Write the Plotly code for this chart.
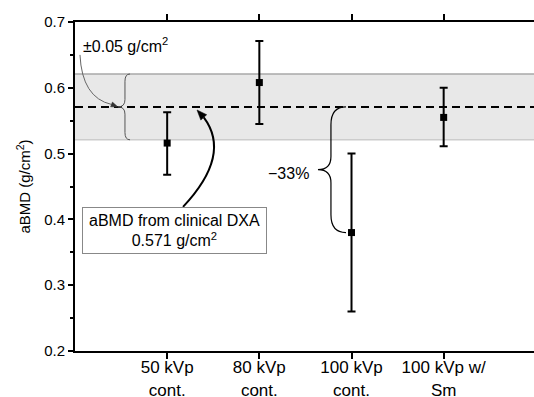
import plotly.graph_objects as go

categories = ["50 kVp<br>cont.", "80 kVp<br>cont.", "100 kVp<br>cont.", "100 kVp w/<br>Sm"]
positions = [1, 2, 3, 4]
abmd = [0.516, 0.608, 0.380, 0.555]
err_plus = [0.047, 0.063, 0.120, 0.045]
err_minus = [0.048, 0.063, 0.120, 0.044]
dxa_ref = 0.571
band = 0.05
y_ticks = [0.2, 0.3, 0.4, 0.5, 0.6, 0.7]

FONT = "Liberation Sans, Arial, sans-serif"

fig = go.Figure()
fig.add_trace(go.Scatter(
    x=positions, y=abmd, mode="markers",
    marker=dict(symbol="square", size=7, color="black"),
    error_y=dict(type="data", array=err_plus, arrayminus=err_minus,
                 color="black", thickness=2, width=4),
    showlegend=False, cliponaxis=False,
))

shapes = []
# reference band
shapes.append(dict(type="rect", xref="paper", yref="y", x0=0, x1=1,
                   y0=dxa_ref - band, y1=dxa_ref + band,
                   fillcolor="#e8e8e8", line=dict(width=0), layer="below"))
shapes.append(dict(type="line", xref="paper", yref="y", x0=0, x1=1,
                   y0=dxa_ref + band, y1=dxa_ref + band,
                   line=dict(color="#a8a8a8", width=1.5), layer="below"))
shapes.append(dict(type="line", xref="paper", yref="y", x0=0, x1=1,
                   y0=dxa_ref - band, y1=dxa_ref - band,
                   line=dict(color="#cccccc", width=1.5), layer="below"))
shapes.append(dict(type="line", xref="paper", yref="y", x0=0, x1=1,
                   y0=dxa_ref, y1=dxa_ref,
                   line=dict(color="black", width=2, dash="8px,5px"), layer="below"))


def brace(x_end, x_mid, x_tip, y_top, y_bot, r_end, r_mid):
    yc = (y_top + y_bot) / 2
    return (f"M {x_end},{y_top} Q {x_mid},{y_top} {x_mid},{y_top - r_end} "
            f"L {x_mid},{yc + r_mid} Q {x_mid},{yc} {x_tip},{yc} "
            f"Q {x_mid},{yc} {x_mid},{yc - r_mid} "
            f"L {x_mid},{y_bot + r_end} Q {x_mid},{y_bot} {x_end},{y_bot}")


# brace for +/-0.05 band
shapes.append(dict(type="path", xref="x", yref="y",
                   path=brace(0.597, 0.542, 0.467, dxa_ref + band, dxa_ref - band, 0.011, 0.011),
                   line=dict(color="#555555", width=1)))
# brace for -33%
shapes.append(dict(type="path", xref="x", yref="y",
                   path=brace(2.94, 2.777, 2.636, dxa_ref, abmd[2], 0.027, 0.02),
                   line=dict(color="black", width=1.2)))
# thin curved arrow from +/-0.05 label
shapes.append(dict(type="path", xref="x", yref="y",
                   path="M 0.054,0.650 Q 0.076,0.585 0.396,0.5747",
                   line=dict(color="#666666", width=1)))
shapes.append(dict(type="path", xref="x", yref="y",
                   path="M 0.4665,0.5708 L 0.386,0.5711 L 0.406,0.5783 Z",
                   fillcolor="#333333", line=dict(color="#333333", width=0.5)))
# thick curved arrow from DXA box
shapes.append(dict(type="path", xref="x", yref="y",
                   path="M 1.172,0.419 Q 1.703,0.498 1.3969,0.555",
                   line=dict(color="black", width=2)))
shapes.append(dict(type="path", xref="x", yref="y",
                   path="M 1.3237,0.5663 L 1.4289,0.5591 L 1.3649,0.5509 Z",
                   fillcolor="black", line=dict(color="black", width=0.5)))

annotations = [
    dict(x=0.065, y=0.665, xref="x", yref="y", xanchor="left", yanchor="middle",
         text="±0.05 g/cm<sup>2</sup>", showarrow=False,
         font=dict(family=FONT, size=16, color="black")),
    dict(x=2.56, y=0.4705, xref="x", yref="y", xanchor="right", yanchor="middle",
         text="−33%", showarrow=False,
         font=dict(family=FONT, size=16, color="black")),
    dict(x=1.08, y=0.383, xref="x", yref="y", xanchor="center", yanchor="middle",
         text=f"aBMD from clinical DXA<br>{dxa_ref} g/cm<sup>2</sup>", showarrow=False,
         width=181, height=43, align="center", borderpad=1,
         bordercolor="#888888", borderwidth=1, bgcolor="white",
         font=dict(family=FONT, size=16, color="black")),
]

fig.update_layout(
    width=534, height=397,
    margin=dict(l=75, r=0, t=22, b=46),
    paper_bgcolor="white", plot_bgcolor="white",
    font=dict(family=FONT, color="black"),
    shapes=shapes, annotations=annotations,
    xaxis=dict(range=[0, 4.98], tickvals=positions, ticktext=categories,
               showgrid=False, zeroline=False, showline=True, linewidth=2,
               linecolor="black", mirror="allticks", ticks="outside", ticklen=6,
               tickwidth=2, tickcolor="black", ticklabelstandoff=-6,
               automargin=False,
               tickfont=dict(family=FONT, size=17, color="black")),
    yaxis=dict(range=[0.2, 0.7], tickvals=y_ticks,
               ticktext=[f"{v:.1f}" for v in y_ticks],
               showgrid=False, zeroline=False, showline=True, linewidth=2,
               linecolor="black", ticks="outside", ticklen=5, tickwidth=2,
               tickcolor="black", automargin=False,
               minor=dict(ticks="outside", ticklen=3, tickwidth=2, dtick=0.05,
                          tick0=0.2, tickcolor="black"),
               tickfont=dict(family=FONT, size=15, color="black"),
               title=dict(text="aBMD (g/cm<sup>2</sup>)", standoff=10,
                          font=dict(family=FONT, size=15, color="black"))),
)

fig.write_html("out.html")
